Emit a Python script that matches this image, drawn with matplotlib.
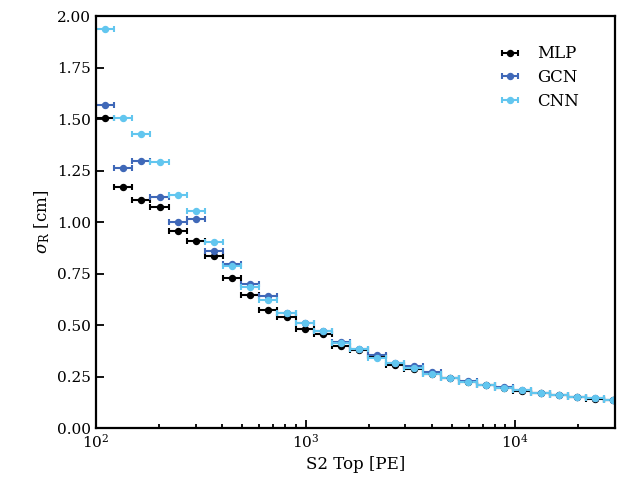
import numpy as np
import matplotlib
matplotlib.use("Agg")
import matplotlib.pyplot as plt

plt.rcParams["font.family"] = ["DejaVu Serif"]
plt.rcParams["mathtext.fontset"] = "dejavuserif"

# log bins in S2 top [PE]
bin_edges = np.logspace(2, 2 + 29 * 0.0866, 30)
x_center = np.sqrt(bin_edges[:-1] * bin_edges[1:])
x_err = [x_center - bin_edges[:-1], bin_edges[1:] - x_center]

# resolution sigma_R [cm] per bin
mlp = [1.503, 1.168, 1.107, 1.071, 0.958, 0.908, 0.835, 0.727, 0.646, 0.575,
       0.538, 0.479, 0.454, 0.397, 0.378, 0.348, 0.307, 0.288, 0.262, 0.242,
       0.224, 0.208, 0.195, 0.182, 0.170, 0.161, 0.151, 0.143, 0.135]
gcn = [1.568, 1.260, 1.296, 1.123, 1.002, 1.013, 0.859, 0.795, 0.700, 0.642,
       0.560, 0.510, 0.470, 0.419, 0.385, 0.354, 0.316, 0.302, 0.273, 0.245,
       0.226, 0.210, 0.197, 0.183, 0.171, 0.162, 0.152, 0.144, 0.136]
cnn = [1.935, 1.503, 1.426, 1.293, 1.131, 1.055, 0.904, 0.787, 0.686, 0.621,
       0.558, 0.511, 0.473, 0.412, 0.382, 0.341, 0.314, 0.290, 0.263, 0.244,
       0.225, 0.209, 0.196, 0.183, 0.171, 0.162, 0.152, 0.144, 0.136]

labels = ["MLP", "GCN", "CNN"]
colors = ["black", "#3f68b8", "#62c6ef"]

fig = plt.figure(figsize=(6.26, 4.91), dpi=100)
ax = fig.add_axes([0.1534, 0.1283, 0.829, 0.839])

for y, lab, c in zip([mlp, gcn, cnn], labels, colors):
    ax.errorbar(x_center, y, xerr=x_err, fmt="o", color=c, label=lab,
                markersize=4.3, elinewidth=1.5, capsize=2.5, capthick=1.5)

ax.set_xscale("log")
ax.set_xlim(100, 3e4)
ax.set_ylim(0, 2)
ax.set_yticks(np.arange(0, 2.01, 0.25))
ax.yaxis.set_major_formatter(matplotlib.ticker.FormatStrFormatter("%.2f"))
ax.set_xlabel("S2 Top [PE]", fontsize=12)
ax.set_ylabel(r"$\sigma_{\rm R}$ [cm]", fontsize=12)

for s in ax.spines.values():
    s.set_linewidth(1.6)
ax.tick_params(which="both", direction="in", top=False, right=False,
               labelsize=11, width=1.3)
ax.tick_params(which="major", length=6)
ax.tick_params(which="minor", length=3)

ax.legend(frameon=False, fontsize=12, loc="upper right",
          bbox_to_anchor=(0.96, 0.965), handlelength=2.6, handletextpad=0.35,
          labelspacing=0.4)

fig.savefig("out.png", dpi=100)
